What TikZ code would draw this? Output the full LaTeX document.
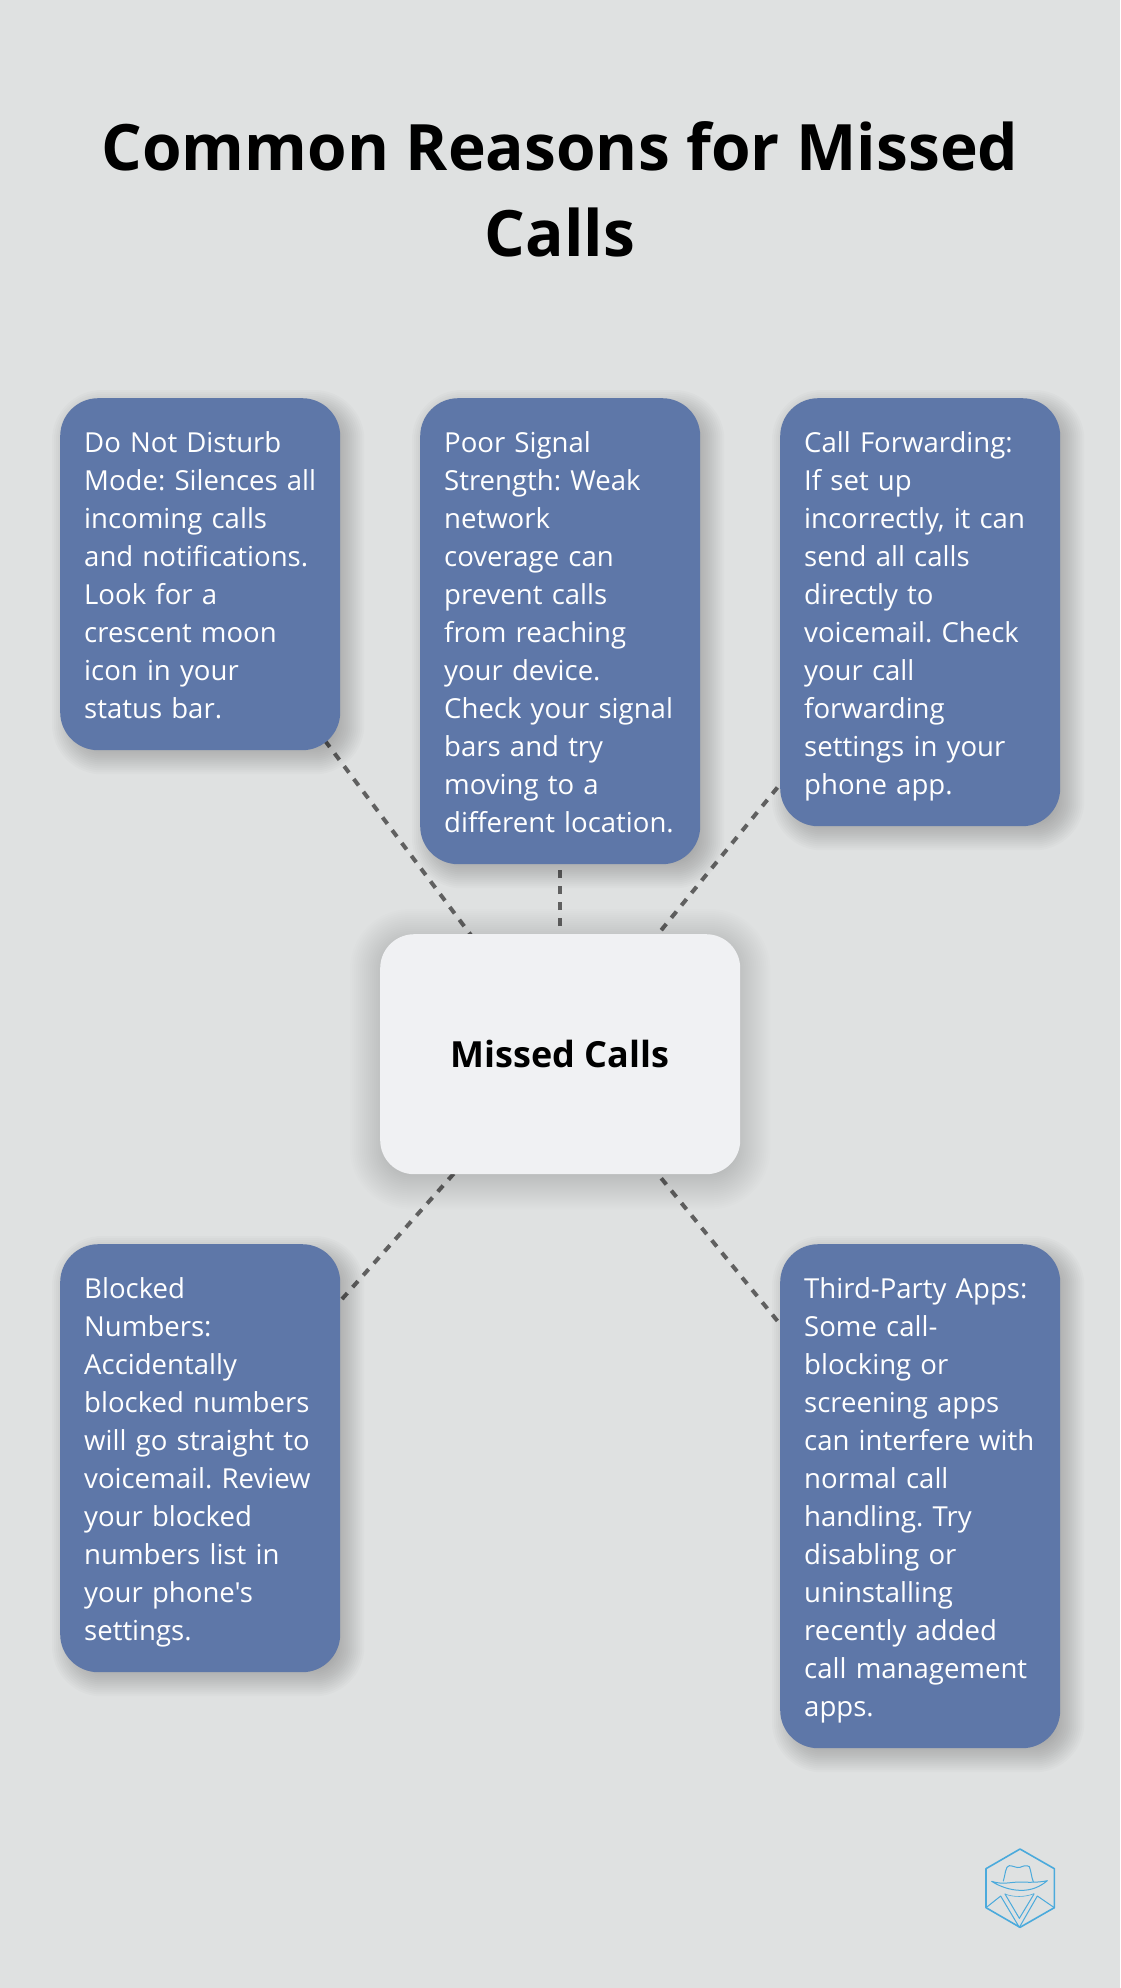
\documentclass[tikz,border=0pt]{standalone}
\usepackage{fontspec}
\newfontfamily\bodyfont{Open Sans}
\usetikzlibrary{backgrounds}
\definecolor{pagebg}{RGB}{223,225,225}
\definecolor{cardblue}{RGB}{94,119,168}
\definecolor{hubfill}{RGB}{240,241,243}
\definecolor{linkgrey}{RGB}{96,96,96}
\definecolor{logoblue}{RGB}{75,170,220}
\newcommand{\lstrut}{\rule[-8.1pt]{0pt}{38pt}}
\newcommand{\softshadow}[6]{% node, dx, dy, blur list, radius, opacity
  \foreach \s in {#4}{
    \pgfmathsetmacro{\rr}{max(#5+\s,2)}
    \fill[black,fill opacity=#6,rounded corners=\rr pt]
      ([xshift=#2-\s pt,yshift=#3+\s pt]#1.north west) rectangle
      ([xshift=#2+\s pt,yshift=#3-\s pt]#1.south east);
  }}
\tikzset{
  card/.style={anchor=north west,fill=cardblue,text=white,rounded corners=38pt,
    inner sep=24pt,text width=232pt,align=left,
    font=\bodyfont\frenchspacing\fontsize{27.55}{38}\selectfont},
  hub/.style={anchor=north west,fill=hubfill,text=black,rounded corners=34pt,
    minimum width=360pt,minimum height=240pt,inner sep=0pt,
    font=\bodyfont\fontsize{36}{44}\selectfont\bfseries},
  headline/.style={anchor=center,text=black,align=center,inner sep=0pt,
    font=\bodyfont\fontsize{64}{86}\selectfont\bfseries},
  link/.style={draw=linkgrey,line width=4pt,dash pattern=on 8pt off 8pt},
  logoline/.style={draw=logoblue,line width=1pt,line join=round,line cap=round}
}
\begin{document}
\begin{tikzpicture}[x=1pt,y=-1pt]
\useasboundingbox (0,0) rectangle (1120,1988);

\node[headline] (title) at (560,189) {Common Reasons for Missed\\Calls};

\node[card] (dnd) at (60,398) {\lstrut Do Not Disturb\\\mbox{Mode: Silences all}\\incoming calls\\and notifications.\\Look for a\\crescent moon\\icon in your\\status bar.\lstrut};
\node[card] (signal) at (420,398) {\lstrut Poor Signal\\Strength: Weak\\network\\coverage can\\prevent calls\\from reaching\\your device.\\Check your signal\\bars and try\\moving to a\\different location.\lstrut};
\node[card] (forward) at (780,398) {\lstrut Call Forwarding:\\If set up\\incorrectly, it can\\send all calls\\directly to\\voicemail. Check\\your call\\forwarding\\settings in your\\phone app.\lstrut};
\node[card] (blocked) at (60,1244) {\lstrut Blocked\\Numbers:\\Accidentally\\blocked numbers\\will go straight to\\voicemail. Review\\your blocked\\numbers list in\\your phone's\\settings.\lstrut};
\node[card] (apps) at (780,1244) {\lstrut Third-Party Apps:\\Some call-\\blocking or\\screening apps\\can interfere with\\normal call\\handling. Try\\disabling or\\uninstalling\\recently added\\call management\\apps.\lstrut};
\node[hub] (hub) at (380,934) {\rule{0pt}{2pt}Missed Calls};

\begin{scope}[on background layer]
  \fill[pagebg] (0,0) rectangle (1120,1988);
  \draw[link] (hub.center) -- (dnd.center);
  \draw[link] (hub.center) -- (signal.center);
  \draw[link] (hub.center) -- (forward.center);
  \draw[link] (hub.center) -- (blocked.center);
  \draw[link] (hub.center) -- (apps.center);
  \foreach \n in {dnd,signal,forward,blocked,apps}{
    \softshadow{\n}{8pt}{-8pt}{-16,-14,...,16}{34}{0.015}
  }
  \softshadow{hub}{0pt}{-5pt}{-24,-22,...,30}{30}{0.0065}
\end{scope}

% logo
\begin{scope}[shift={(960,1820)},x=0.3333pt,y=-0.3333pt]
  \draw[logoline,line width=1.6pt] (180,87) -- (283,146) -- (283,263) -- (180,322) -- (78,263) -- (78,146) -- cycle;
  \draw[logoline] (130,183) .. controls (136,165) and (136,137) .. (148,137)
    .. controls (160,137) and (170,145) .. (180,142) .. controls (190,138) and (200,134) .. (208,140)
    .. controls (214,155) and (214,172) .. (220,185);
  \draw[logoline] (95,184) .. controls (130,195) and (150,186) .. (180,186) .. controls (205,187) and (235,188) .. (262,182)
    .. controls (240,200) and (215,212) .. (180,211) .. controls (150,210) and (120,200) .. (95,184) -- cycle;
  \draw[logoline,line width=0.6pt] (135,222) .. controls (160,232) and (195,232) .. (222,221);
  \draw[logoline] (78,263) -- (122,228) -- (178,322) -- (232,228) -- (283,263);
  \draw[logoline] (135,222) -- (178,295) -- (222,222);
\end{scope}
\end{tikzpicture}
\end{document}
